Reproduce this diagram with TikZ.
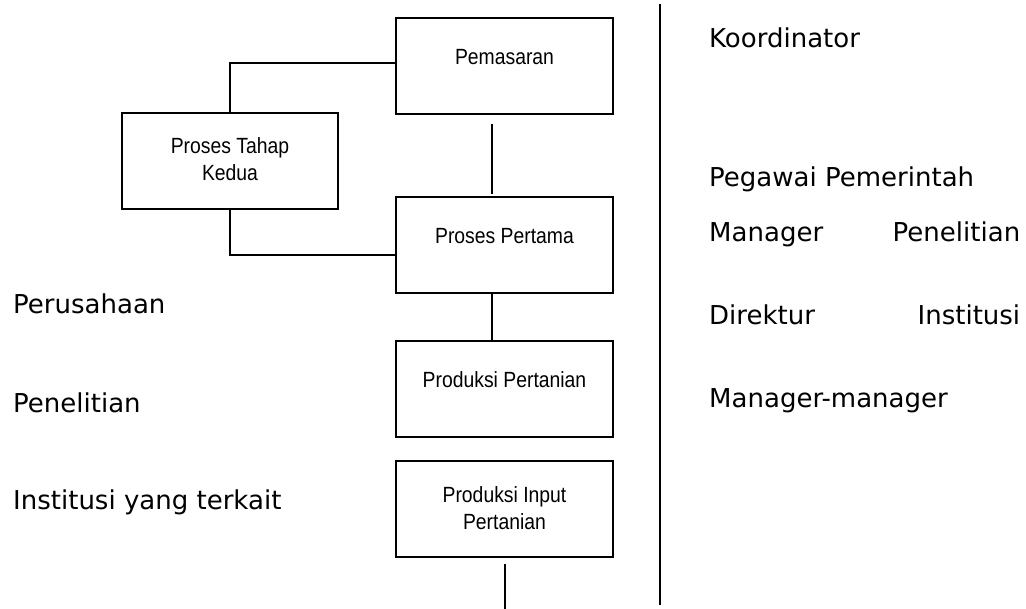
\documentclass[tikz,border=0pt]{standalone}
\usepackage{fontspec}
\setmainfont{DejaVu Sans}
\newfontfamily\boxfont[FakeStretch=0.88]{Liberation Sans}
\usetikzlibrary{calc}
\begin{document}
\begin{tikzpicture}[x=1pt,y=-1pt,
  boxnode/.style={draw, line width=1.7pt, minimum width=217pt, minimum height=96pt, inner sep=0pt},
  boxtext/.style={font=\boxfont\fontsize{22}{27}\selectfont, align=center, inner sep=0pt},
  sidetext/.style={font=\fontsize{26}{31}\selectfont, anchor=base west, inner sep=0pt},
  link/.style={line width=1.7pt}]
\useasboundingbox (0,0) rectangle (1026,609);

% boxes
\node[boxnode] (pem) at (504.5,66) {};
\node[boxnode, minimum width=216pt] (ptk) at (230,161) {};
\node[boxnode] (pp)  at (504.5,245) {};
\node[boxnode] (prp) at (504.5,389) {};
\node[boxnode] (pip) at (504.5,509) {};

% box texts
\node[boxtext, anchor=base] (pemt) at (504.5,65) {Pemasaran};
\node[boxtext, anchor=north] (ptkt) at (230,137.5) {Proses Tahap\\Kedua};
\node[boxtext, anchor=base] (ppt)  at (504.5,244) {Proses Pertama};
\node[boxtext, anchor=base] (prpt) at (504.5,388) {Produksi Pertanian};
\node[boxtext, anchor=north] (pipt) at (504.5,486.5) {Produksi Input\\Pertanian};

% connectors
\coordinate (v1a) at (492,124);
\coordinate (v1b) at (492,194);
\coordinate (bend) at (505,609);
\coordinate (divtop) at (660,4);
\coordinate (divbot) at (660,605);

\draw[link] ($(pem.west)+(0,-3)$) -| (ptk.north);
\draw[link] (ptk.south) |- ($(pp.west)+(0,10)$);
\draw[link] (v1a) -- (v1b);
\draw[link] (pp.south -| v1a) -- (prp.north -| v1a);
\draw[link] ($(pip.south)+(0.5,6)$) -- (bend);
\draw[link] (divtop) -- (divbot);

% left texts
\node[sidetext] (l1) at (13,314) {Perusahaan};
\node[sidetext] (l2) at (13,413) {Penelitian};
\node[sidetext] (l3) at (13,509) {Institusi yang terkait};

% right texts
\node[sidetext] (r1) at (709,48) {Koordinator};
\node[sidetext] (r2) at (709,187) {Pegawai Pemerintah};
\node[sidetext] (r3) at (709,242) {\makebox[311pt][s]{Manager\hfill Penelitian}};
\node[sidetext] (r4) at (709,325) {\makebox[311pt][s]{Direktur\hfill Institusi}};
\node[sidetext] (r5) at (709,408) {Manager-manager};
\end{tikzpicture}
\end{document}
